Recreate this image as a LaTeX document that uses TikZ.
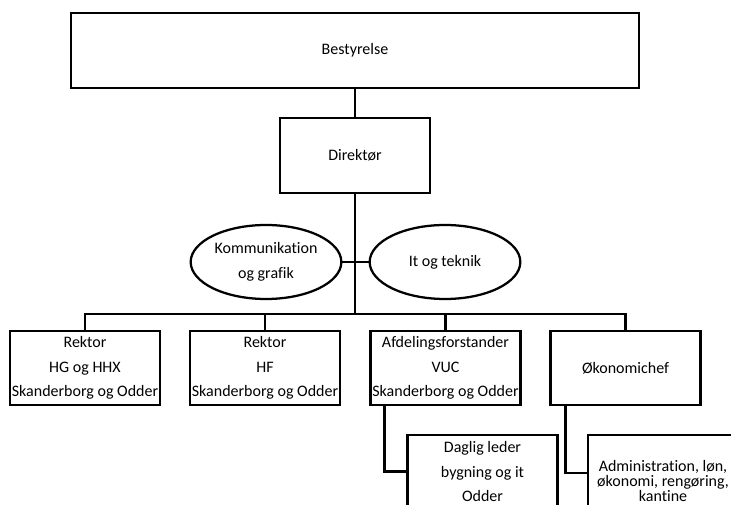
\documentclass[tikz,border=0pt]{standalone}
\usepackage{fontspec}
\setmainfont{Carlito}[Ligatures=NoCommon]
\usepackage{tikz}
\usetikzlibrary{positioning, shapes, calc}

\begin{document}
\begin{tikzpicture}[
    x=0.75pt, y=-0.75pt,
    font=\fontsize{12}{18.4}\selectfont,
    block/.style={rectangle, draw, line width=1.7pt, fill=white, align=center, inner sep=1pt, minimum width=112.5pt, minimum height=55.5pt},
    oval/.style={ellipse, draw, line width=1.7pt, fill=white, align=center, inner sep=1pt, minimum width=113pt, minimum height=55.5pt},
    line/.style={draw, line width=1.7pt}
    ]
    \useasboundingbox (0,0) rectangle (731,505);

    \coordinate (bus) at (355,314);

    \node[block, minimum width=426pt, minimum height=56.25pt] (board) at (355,50.5) {Bestyrelse};
    \node[block, minimum height=56.25pt] (dir) at (355,155.5) {Direktør};

    \node[oval] (komm) at (266,262) {Kommunikation\\og grafik};
    \node[oval] (it) at (445,262) {It og teknik};

    \node[block] (rek1) at (85,368) {Rektor\\HG og HHX\\Skanderborg og Odder};
    \node[block] (rek2) at (265,368) {Rektor\\HF\\Skanderborg og Odder};
    \node[block] (afd) at (445.5,368) {Afdelingsforstander\\VUC\\Skanderborg og Odder};
    \node[block] (oko) at (625.5,368) {Økonomichef};

    \node[block, minimum height=55pt] (daglig) at (482.5,471.5) {Daglig leder\\bygning og it\\Odder};
    \node[block, minimum height=69pt, font=\fontsize{12}{11.3}\selectfont] (admin) at (663,481) {Administration, løn,\\økonomi, rengøring,\\kantine};

    \draw[line] (board) -- (dir);
    \draw[line] (dir) -- (bus);
    \draw[line] (komm) -- (it);

    \draw[line] (rek1.north) |- (bus);
    \draw[line] (rek2.north) |- (bus);
    \draw[line] (afd.north) |- (bus);
    \draw[line] (oko.north) |- (bus);

    \draw[line] ($(afd.south west)+(15,0)$) |- (daglig.west);
    \draw[line] ($(oko.south west)+(16,0)$) |- ($(admin.west)+(0,-8)$);

\end{tikzpicture}
\end{document}
